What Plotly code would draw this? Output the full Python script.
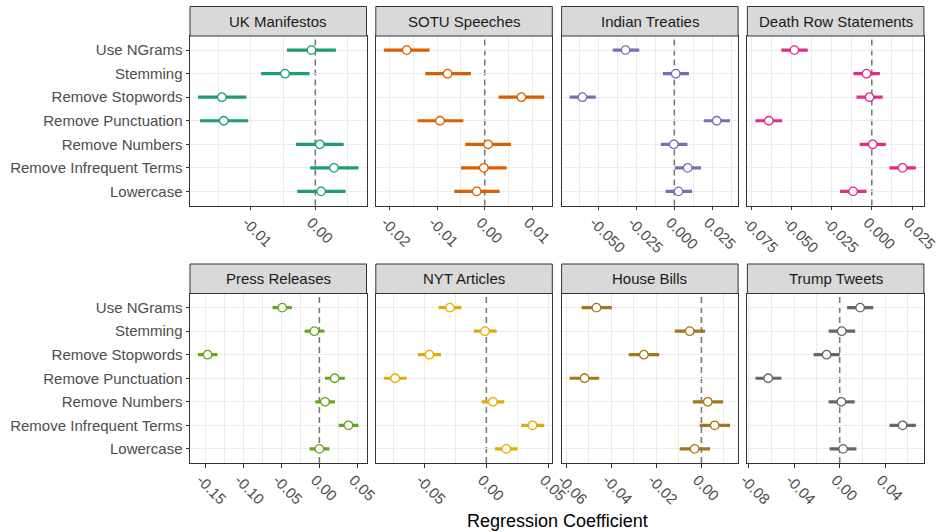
import plotly.graph_objects as go

# Preprocessing steps, listed top to bottom as they appear on the y axis
steps = ["Use NGrams", "Stemming", "Remove Stopwords", "Remove Punctuation",
         "Remove Numbers", "Remove Infrequent Terms", "Lowercase"]

corpora = ["UK Manifestos", "SOTU Speeches", "Indian Treaties", "Death Row Statements",
           "Press Releases", "NYT Articles", "House Bills", "Trump Tweets"]

colors = ["#1B9E77", "#D95F02", "#7570B3", "#E7298A",
          "#66A61E", "#E6AB02", "#A6761D", "#666666"]

# Point estimates and interval bounds per corpus (same order as `steps`)
uk_est = [-0.0006, -0.0047, -0.0145, -0.0142, 0.0007, 0.0029, 0.0009]
uk_lo = [-0.0044, -0.0084, -0.0182, -0.0179, -0.0030, -0.0008, -0.0028]
uk_hi = [0.0032, -0.0009, -0.0107, -0.0104, 0.0044, 0.0067, 0.0047]

sotu_est = [-0.0164, -0.0078, 0.0077, -0.0094, 0.0007, -0.0002, -0.0017]
sotu_lo = [-0.0212, -0.0125, 0.0029, -0.0141, -0.0041, -0.0050, -0.0064]
sotu_hi = [-0.0116, -0.0029, 0.0125, -0.0045, 0.0055, 0.0046, 0.0031]

indian_est = [-0.0320, 0.0009, -0.0603, 0.0278, -0.0003, 0.0088, 0.0028]
indian_lo = [-0.0404, -0.0075, -0.0687, 0.0193, -0.0088, 0.0004, -0.0057]
indian_hi = [-0.0230, 0.0096, -0.0516, 0.0366, 0.0086, 0.0175, 0.0116]

death_est = [-0.0481, -0.0033, -0.0014, -0.0640, 0.0006, 0.0191, -0.0116]
death_lo = [-0.0562, -0.0114, -0.0095, -0.0723, -0.0075, 0.0110, -0.0197]
death_hi = [-0.0398, 0.0050, 0.0068, -0.0557, 0.0087, 0.0274, -0.0033]

press_est = [-0.0487, -0.0066, -0.1466, 0.0201, 0.0074, 0.0382, 0.0000]
press_lo = [-0.0614, -0.0193, -0.1592, 0.0074, -0.0053, 0.0254, -0.0128]
press_hi = [-0.0361, 0.0066, -0.1338, 0.0333, 0.0205, 0.0513, 0.0132]

nyt_est = [-0.0294, -0.0011, -0.0460, -0.0737, 0.0053, 0.0373, 0.0161]
nyt_lo = [-0.0385, -0.0102, -0.0552, -0.0828, -0.0038, 0.0282, 0.0069]
nyt_hi = [-0.0202, 0.0083, -0.0366, -0.0643, 0.0145, 0.0468, 0.0252]

house_est = [-0.0465, -0.0052, -0.0255, -0.0518, 0.0028, 0.0059, -0.0030]
house_lo = [-0.0531, -0.0118, -0.0322, -0.0584, -0.0038, -0.0008, -0.0096]
house_hi = [-0.0397, 0.0016, -0.0187, -0.0453, 0.0096, 0.0127, 0.0038]

trump_est = [0.0180, 0.0018, -0.0115, -0.0629, 0.0015, 0.0553, 0.0030]
trump_lo = [0.0065, -0.0097, -0.0229, -0.0741, -0.0097, 0.0438, -0.0088]
trump_hi = [0.0295, 0.0136, 0.0000, -0.0512, 0.0132, 0.0670, 0.0147]

estimates = [uk_est, sotu_est, indian_est, death_est, press_est, nyt_est, house_est, trump_est]
lowers = [uk_lo, sotu_lo, indian_lo, death_lo, press_lo, nyt_lo, house_lo, trump_lo]
uppers = [uk_hi, sotu_hi, indian_hi, death_hi, press_hi, nyt_hi, house_hi, trump_hi]

# Break positions and labels for each panel's x axis
major_ticks = [
    [-0.01, 0.0],
    [-0.02, -0.01, 0.0, 0.01],
    [-0.05, -0.025, 0.0, 0.025],
    [-0.075, -0.05, -0.025, 0.0, 0.025],
    [-0.15, -0.10, -0.05, 0.0, 0.05],
    [-0.05, 0.0, 0.05],
    [-0.06, -0.04, -0.02, 0.0],
    [-0.08, -0.04, 0.0, 0.04],
]
major_labels = [
    ["-0.01", "0.00"],
    ["-0.02", "-0.01", "0.00", "0.01"],
    ["-0.050", "-0.025", "0.000", "0.025"],
    ["-0.075", "-0.050", "-0.025", "0.000", "0.025"],
    ["-0.15", "-0.10", "-0.05", "0.00", "0.05"],
    ["-0.05", "0.00", "0.05"],
    ["-0.06", "-0.04", "-0.02", "0.00"],
    ["-0.08", "-0.04", "0.00", "0.04"],
]
minor_ticks = [
    [-0.015, -0.005, 0.005],
    [-0.015, -0.005, 0.005],
    [-0.0625, -0.0375, -0.0125, 0.0125, 0.0375],
    [-0.0625, -0.0375, -0.0125, 0.0125],
    [-0.125, -0.075, -0.025, 0.025],
    [-0.075, -0.025, 0.025],
    [-0.05, -0.03, -0.01, 0.01],
    [-0.06, -0.02, 0.02, 0.06],
]

W, H = 938, 532
FONT = "Liberation Sans, Arial, Helvetica, sans-serif"

# Panel geometry in pixels
col_x = [(190.0, 366.5), (375.8, 552.3), (561.6, 738.1), (747.4, 923.9)]
row_plot_y = [(36.0, 205.5), (293.5, 463.0)]
row_strip_y = [(6.5, 36.0), (264.0, 293.5)]

fig = go.Figure()
shapes = []
annotations = []
bottom_to_top = steps[::-1]

for i, name in enumerate(corpora):
    r, c = divmod(i, 4)
    ax = "" if i == 0 else str(i + 1)
    xname, yname = "x" + ax, "y" + ax
    est, lo, hi = estimates[i], lowers[i], uppers[i]

    fig.add_trace(go.Scatter(
        x=est, y=steps, xaxis=xname, yaxis=yname, mode="markers",
        marker=dict(size=8.5, color="white", line=dict(color=colors[i], width=1.3)),
        error_x=dict(type="data", symmetric=False,
                     array=[h - e for h, e in zip(hi, est)],
                     arrayminus=[e - l for e, l in zip(est, lo)],
                     thickness=3.2, width=0, color=colors[i]),
        showlegend=False, hoverinfo="skip",
    ))

    span = max(hi) - min(lo)
    xr = [min(lo) - 0.05 * span, max(hi) + 0.05 * span]
    x0, x1 = col_x[c]
    py0, py1 = row_plot_y[r]
    sy0, sy1 = row_strip_y[r]

    # vertical grid: every break except zero, where the dashed reference sits
    grid_x = sorted([v for v in major_ticks[i] if v != 0.0] + minor_ticks[i])

    fig.update_layout(**{
        "xaxis" + ax: dict(
            domain=[x0 / W, x1 / W], anchor=yname, range=xr, automargin=False,
            tickmode="array", tickvals=major_ticks[i], ticktext=major_labels[i],
            tickangle=45, ticks="outside", ticklen=3.5, tickwidth=1, tickcolor="#333333",
            ticklabeloverflow="allow", ticklabelshift=-4, ticklabelstandoff=-2,
            tickfont=dict(family=FONT, size=15, color="#4D4D4D"),
            showgrid=False, zeroline=False,
            showline=True, mirror=True, linecolor="#333333", linewidth=1,
            minor=dict(tickmode="array", tickvals=grid_x, showgrid=True,
                       gridcolor="#EBEBEB", gridwidth=1.0, ticks=""),
        ),
        "yaxis" + ax: dict(
            domain=[1 - py1 / H, 1 - py0 / H], anchor=xname, automargin=False,
            type="category", categoryorder="array", categoryarray=bottom_to_top,
            range=[-0.6, 6.6],
            showticklabels=(c == 0), ticks="outside" if c == 0 else "",
            ticklen=3.5, tickwidth=1, tickcolor="#333333",
            tickfont=dict(family=FONT, size=15, color="#4D4D4D"),
            showgrid=True, gridcolor="#EBEBEB", gridwidth=1.3, zeroline=False,
            showline=True, mirror=True, linecolor="#333333", linewidth=1,
        ),
    })

    # dashed reference line at zero, beneath the points
    shapes.append(dict(type="line", xref=xname, yref="paper",
                       x0=0, x1=0, y0=1 - py1 / H, y1=1 - py0 / H, layer="between",
                       line=dict(color="#7A7A7A", width=1.6, dash="6px,4px")))
    # facet strip
    shapes.append(dict(type="rect", xref="paper", yref="paper",
                       x0=x0 / W, x1=x1 / W, y0=1 - sy1 / H, y1=1 - sy0 / H,
                       fillcolor="#D9D9D9", line=dict(color="#333333", width=1)))
    annotations.append(dict(text=name, xref="paper", yref="paper",
                            x=(x0 + x1) / 2 / W, y=1 - (sy0 + sy1) / 2 / H,
                            xanchor="center", yanchor="middle", showarrow=False,
                            font=dict(family=FONT, size=15, color="#1A1A1A")))

annotations.append(dict(text="Regression Coefficient", xref="paper", yref="paper",
                        x=557 / W, y=1 - 521 / H, xanchor="center", yanchor="middle",
                        showarrow=False, font=dict(family=FONT, size=18, color="#000000")))

fig.update_layout(
    width=W, height=H, autosize=False,
    margin=dict(l=0, r=0, t=0, b=0),
    paper_bgcolor="white", plot_bgcolor="rgba(0,0,0,0)",
    shapes=shapes, annotations=annotations,
)

fig.write_html("out.html")
